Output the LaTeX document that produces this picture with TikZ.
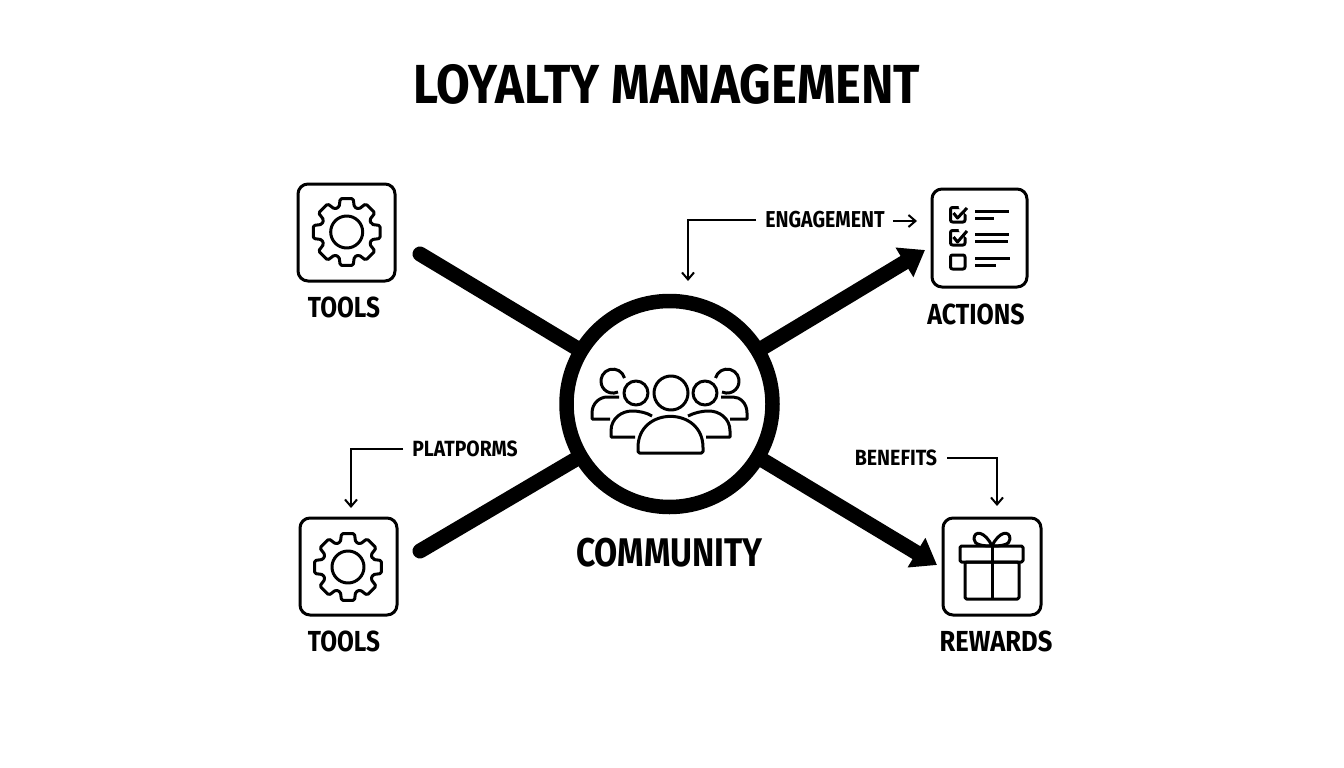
\documentclass[tikz,border=0pt]{standalone}
\usepackage{fontspec}
\usepackage{graphicx}
\usetikzlibrary{arrows.meta}
\newfontfamily\labfont{Fira Sans}[BoldFont={Fira Sans Bold}]
\newcommand{\lbl}[3]{\scalebox{#2}[1]{\labfont\bfseries\fontsize{#1}{#1}\selectfont #3}}
\tikzset{
  iconbox/.style={draw=black,line width=3pt,rounded corners=10pt,fill=white,inner sep=0pt},
  txt/.style={inner sep=0pt,text=black},
  thin line/.style={line width=2pt,draw=black},
  thick line/.style={line width=15pt,draw=black},
  icon/.style={line width=3pt,draw=black,line join=round},
  fine arrow/.style={thin line,-{Straight Barb[length=7pt,width=12pt,line width=2pt]}},
  bold arrow/.style={thick line,-{Triangle[length=24pt,width=33pt]}},
  gear/.pic={
    \draw[icon,rounded corners=1.5pt] (-17:26)
      \foreach \a in {0,45,...,315} { -- (\a-17:26) -- (\a-11:34) -- (\a+11:34) -- (\a+17:26) } -- cycle;
    \draw[icon] (0,0) circle[radius=16pt];
  }
}
\begin{document}
\begin{tikzpicture}[x=1pt,y=-1pt]
\useasboundingbox[fill=white] (0,0) rectangle (1344,768);
\node[txt] (title) at (667,84) {\lbl{55}{0.89}{LOYALTY MANAGEMENT}};

\node[draw=black,line width=14.5pt,circle,fill=white,minimum size=206pt,inner sep=0pt] (hub) at (669.5,404) {};
\node[txt] (community) at (669.5,553) {\lbl{40}{0.84}{COMMUNITY}};

% icon boxes
\node[iconbox,minimum width=97pt,minimum height=97pt] (tools1) at (346.5,232.5) {};
\node[iconbox,minimum width=97pt,minimum height=97pt] (tools2) at (348.5,566.5) {};
\node[iconbox,minimum width=95pt,minimum height=98pt] (actions) at (979.5,238) {};
\node[iconbox,minimum width=98pt,minimum height=97pt] (rewards) at (992,566.5) {};

\node[txt] (tools1lab) at (344,307) {\lbl{29}{0.84}{TOOLS}};
\node[txt] (tools2lab) at (344,641) {\lbl{29}{0.84}{TOOLS}};
\node[txt] (actionslab) at (976,314) {\lbl{29}{0.86}{ACTIONS}};
\node[txt] (rewardslab) at (996,641) {\lbl{29}{0.88}{REWARDS}};

\node[txt] (engage) at (825,220) {\lbl{23}{0.85}{ENGAGEMENT}};
\node[txt] (platforms) at (465,449) {\lbl{22}{0.88}{PLATPORMS}};
\node[txt] (benefits) at (896,458) {\lbl{22}{0.89}{BENEFITS}};

% thick connectors
\coordinate (s1) at (420,254);
\coordinate (s2) at (420,551);
\coordinate (t1) at (925,250);
\coordinate (t2) at (937,565);
\draw[thick line,line cap=round,shorten >=-3pt] (s1) -- (hub);
\draw[thick line,line cap=round,shorten >=-3pt] (s2) -- (hub);
\draw[bold arrow,shorten <=-3pt] (hub) -- (t1);
\draw[bold arrow,shorten <=-3pt] (hub) -- (t2);

% fine connectors
\coordinate (e1) at (688,281);
\coordinate (e2) at (917,221);
\coordinate (p1) at (351,508);
\coordinate (b1) at (997,506);
\draw[fine arrow,shorten <=9pt] (engage.west) -| (e1);
\draw[fine arrow,shorten <=8pt] (engage.east |- e2) -- (e2);
\draw[fine arrow,shorten <=9pt] (platforms.west) -| (p1);
\draw[fine arrow,shorten <=10pt] (benefits.east) -| (b1);

% gears
\pic at (346.7,232) {gear};
\pic at (348,567) {gear};

% checklist
\draw[icon,rounded corners=2pt] (950.5,207.5) rectangle (965,222);
\draw[icon,rounded corners=2pt] (950.5,230.5) rectangle (965,245);
\draw[icon,rounded corners=2pt] (950.5,255) rectangle (965,269);
\draw[icon,fill=white,draw=white] (960,207) -- (968,207) -- (968,214) -- cycle;
\draw[icon,fill=white,draw=white] (960,230) -- (968,230) -- (968,237) -- cycle;
\draw[icon] (953.5,213) -- (957.5,218) -- (967,208);
\draw[icon] (953.5,237) -- (957.5,242) -- (967,231);
\draw[icon] (975,211) -- (1009,211);
\draw[icon] (975,218) -- (994,218);
\draw[icon] (975,234) -- (1009,234);
\draw[icon] (975,241) -- (1008,241);
\draw[icon] (975,258) -- (1010,258);
\draw[icon] (975,265) -- (996,265);

% gift
\draw[icon,rounded corners=1.5pt] (960,546) rectangle (1023,562);
\draw[icon,rounded corners=1.5pt] (965,562) rectangle (1019,599);
\draw[icon] (992,546) -- (992,599);
\draw[icon] (992,546) .. controls (985,531) and (974,530) .. (974,539) .. controls (974,545) and (983,546) .. (992,546);
\draw[icon] (992,546) .. controls (999,531) and (1010,530) .. (1010,539) .. controls (1010,545) and (1001,546) .. (992,546);

% people
\draw[icon] (671,393) circle[radius=17pt];
\draw[icon,rounded corners=1.5pt] (638,453) -- (638,449) .. controls (638,406) and (703,406) .. (703,449) -- (703,453) -- cycle;
\draw[icon] (636,393) circle[radius=12pt];
\draw[icon] (705,393) circle[radius=12pt];
\draw[icon] (635,437) -- (611,437) -- (611,431) .. controls (611,418) and (622,411) .. (632,411) .. controls (640,411) and (647,413) .. (652,416);
\draw[icon] (706,437) -- (730,437) -- (730,431) .. controls (730,418) and (719,411) .. (709,411) .. controls (701,411) and (694,413) .. (688,416);
\draw[icon] (624.5,378) arc[start angle=15,end angle=295,radius=12pt];
\draw[icon] (715.5,378) arc[start angle=165,end angle=-115,radius=12pt];
\draw[icon] (610,419) -- (592,419) -- (592,413) .. controls (592,403) and (600,397) .. (607,397) -- (619,397);
\draw[icon] (730,419) -- (747,419) -- (747,413) .. controls (747,403) and (740,397) .. (733,397) -- (721,397);
\end{tikzpicture}
\end{document}
